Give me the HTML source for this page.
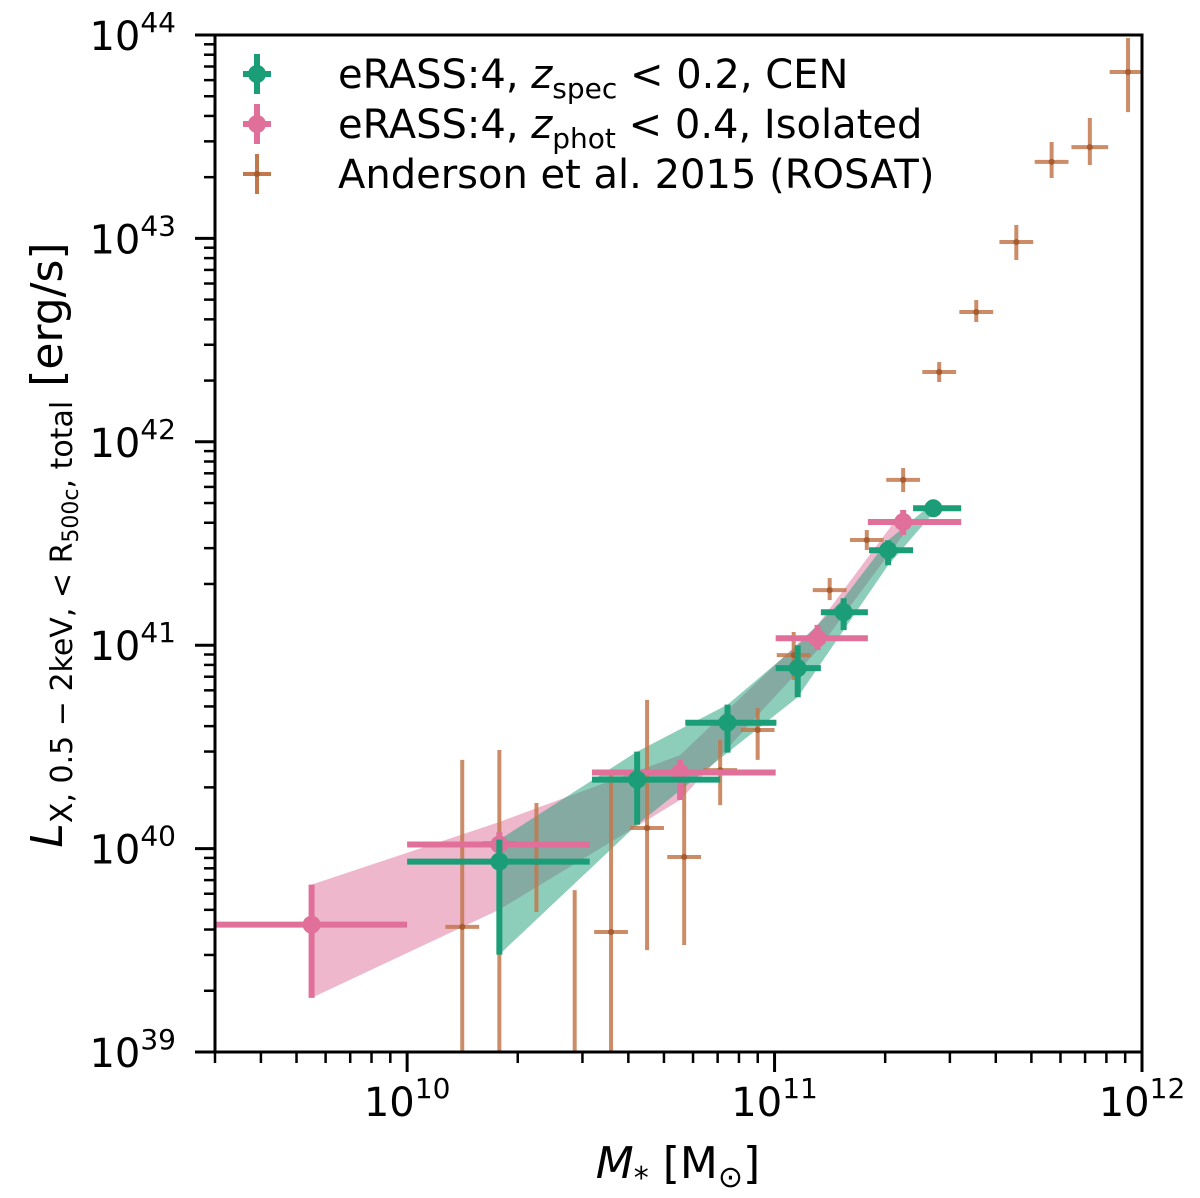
<!DOCTYPE html>
<html><head><meta charset="utf-8">
<style>
html,body{margin:0;padding:0;background:#fff;}
svg{display:block;font-family:"DejaVu Sans","Liberation Sans",sans-serif;}
</style></head>
<body>
<svg id="chart" width="1200" height="1198" viewBox="0 0 1200 1198" xmlns="http://www.w3.org/2000/svg">
<defs><clipPath id="clip"><rect x="215" y="35" width="927" height="1017"/></clipPath></defs>
<g id="plot" clip-path="url(#clip)"></g>
<g id="axes"></g>
</svg>
<script>
// ---- data (log10 values) ----
const cenX = [10.251, 10.626, 10.872, 11.063, 11.188, 11.309, 11.432];
const cenY = [39.936, 40.339, 40.619, 40.887, 41.162, 41.467, 41.673];
const cenXlo = [10.0, 10.503, 10.757, 11.003, 11.126, 11.257, 11.377];
const cenXhi = [10.497, 10.852, 11.005, 11.126, 11.254, 11.377, 11.508];
const cenYhi = [40.044, 40.477, 40.708, 41.0, 41.231, 41.516, 41.70];
const cenYlo = [39.479, 40.118, 40.472, 40.744, 41.074, 41.393, 41.65];

const isoX = [9.740, 10.251, 10.743, 11.117, 11.35];
const isoY = [39.626, 40.02, 40.374, 41.034, 41.606];
const isoXlo = [9.473, 10.0, 10.503, 11.003, 11.254];
const isoXhi = [10.0, 10.497, 11.003, 11.254, 11.508];
const isoYhi = [39.823, 40.08, 40.436, 41.10, 41.665];
const isoYlo = [39.266, 39.96, 40.239, 40.976, 41.542];
const isoBandHi = [39.823, 40.131, 40.46, 41.10, 41.665];
const isoBandLo = [39.266, 39.70, 40.239, 40.976, 41.542];

const andX = [10.150,10.251,10.352,10.456,10.555,10.653,10.754,10.852,10.954,11.052,11.150,11.251,11.350,11.448,11.549,11.658,11.754,11.858,11.962];
const andY = [39.615,40.027,39.934,38.96,39.590,40.101,39.959,40.386,40.583,40.951,41.271,41.517,41.813,42.343,42.638,42.982,43.376,43.449,43.818];
const andYhi = [40.436,40.485,40.224,39.796,40.386,40.731,40.347,40.534,40.691,41.065,41.330,41.566,41.871,42.392,42.697,43.066,43.474,43.592,43.985];
const andYlo = [38.9,38.9,39.688,38.9,38.9,39.501,39.526,40.214,40.436,40.829,41.222,41.468,41.753,42.294,42.589,42.894,43.297,43.361,43.621];
const andXerr = [0.046,0.046,0.046,0.046,0.046,0.046,0.046,0.046,0.046,0.046,0.046,0.046,0.046,0.046,0.046,0.046,0.046,0.05,0.05];

const xTicks = [10, 11, 12];
const yTicks = [39, 40, 41, 42, 43, 44];

// ---- axes ----
const X0=215, X1=1142, Y0=35, Y1=1052;
const xmin=Math.log10(3e9), xmax=12, ymin=39, ymax=44;
const sx = v => X0 + (v - xmin) / (xmax - xmin) * (X1 - X0);
const sy = v => Y1 - (v - ymin) / (ymax - ymin) * (Y1 - Y0);
const NS='http://www.w3.org/2000/svg';
function mk(tag, attrs, parent){const e=document.createElementNS(NS,tag);for(const k in attrs)e.setAttribute(k,attrs[k]);parent.appendChild(e);return e;}
const plot=document.getElementById('plot'), axes=document.getElementById('axes');

const GREEN='#1b9e77', PINK='#e0709a', ORANGE='#c2784c';

function band(xs, hi, lo, color, name){
  let pts=xs.map((x,i)=>sx(x)+','+sy(hi[i]));
  for(let i=xs.length-1;i>=0;i--) pts.push(sx(xs[i])+','+sy(lo[i]));
  const p=mk('polygon',{points:pts.join(' '),fill:color,'fill-opacity':0.5,stroke:'none'},plot);
  
  
}
band(isoX, isoBandHi, isoBandLo, PINK, 'isolated-band');
band(cenX, cenYhi, cenYlo, GREEN, 'cen-band');

andX.forEach((x,i)=>{
  const g=mk('g',{},plot);
  
  
  mk('line',{x1:sx(x-andXerr[i]),x2:sx(x+andXerr[i]),y1:sy(andY[i]),y2:sy(andY[i]),stroke:ORANGE,'stroke-width':4,'stroke-opacity':0.85},g);
  mk('line',{x1:sx(x),x2:sx(x),y1:sy(andYhi[i]),y2:sy(andYlo[i]),stroke:ORANGE,'stroke-width':4,'stroke-opacity':0.85},g);
  mk('circle',{cx:sx(x),cy:sy(andY[i]),r:3,fill:'#a85a30'},g);
});

function series(xs,ys,xl,xh,yl,yh,color,name){
  xs.forEach((x,i)=>{
    const g=mk('g',{},plot);
    
    
    mk('line',{x1:sx(xl[i]),x2:sx(xh[i]),y1:sy(ys[i]),y2:sy(ys[i]),stroke:color,'stroke-width':6},g);
    mk('line',{x1:sx(x),x2:sx(x),y1:sy(yh[i]),y2:sy(yl[i]),stroke:color,'stroke-width':6},g);
    mk('circle',{cx:sx(x),cy:sy(ys[i]),r:9,fill:color},g);
  });
}
series(isoX,isoY,isoXlo,isoXhi,isoYlo,isoYhi,PINK,'isolated-point');
series(cenX,cenY,cenXlo,cenXhi,cenYlo,cenYhi,GREEN,'cen-point');

const fr=mk('rect',{x:X0,y:Y0,width:X1-X0,height:Y1-Y0,fill:'none',stroke:'#000','stroke-width':3},axes);



for(let d=9; d<12; d++){
  for(let m=1;m<10;m++){
    const v=d+Math.log10(m);
    if(v<xmin-1e-9||v>xmax) continue;
    const major=(m===1);
    mk('line',{x1:sx(v),x2:sx(v),y1:Y1,y2:Y1+(major?20:11),stroke:'#000','stroke-width':major?3:2.5},axes);
  }
}
mk('line',{x1:sx(12),x2:sx(12),y1:Y1,y2:Y1+20,stroke:'#000','stroke-width':3},axes);
xTicks.forEach(t=>{
  const tx=mk('text',{x:sx(t),y:1116,'text-anchor':'middle','font-size':40},axes);
  
  
  tx.innerHTML='10<tspan dy="-18" font-size="28">'+t+'</tspan>';
});
for(let d=39; d<44; d++){
  for(let m=1;m<10;m++){
    const v=d+Math.log10(m);
    mk('line',{x1:X0,x2:X0-(m===1?20:11),y1:sy(v),y2:sy(v),stroke:'#000','stroke-width':m===1?3:2.5},axes);
  }
}
mk('line',{x1:X0,x2:X0-20,y1:sy(44),y2:sy(44),stroke:'#000','stroke-width':3},axes);
yTicks.forEach(t=>{
  const tx=mk('text',{x:176,y:sy(t)+15,'text-anchor':'end','font-size':40},axes);
  
  
  tx.innerHTML='10<tspan dy="-18" font-size="28">'+t+'</tspan>';
});

const xt=mk('text',{x:678,y:1178,'text-anchor':'middle','font-size':44},axes);


xt.innerHTML='<tspan font-style="italic">M</tspan><tspan dy="10" font-size="30">*</tspan><tspan dy="-10"> [M</tspan><tspan dy="9" font-size="30">⊙</tspan><tspan dy="-9">]</tspan>';
const yt=mk('text',{x:0,y:0,'text-anchor':'middle','font-size':44,transform:'translate(62,545) rotate(-90)'},axes);


yt.innerHTML='<tspan font-style="italic">L</tspan><tspan dy="10" font-size="30">X, 0.5 − 2keV, &lt; R</tspan><tspan dy="6" font-size="22">500c</tspan><tspan dy="-6" font-size="30">, total</tspan><tspan dy="-10"> [erg/s]</tspan>';

const leg=[{c:GREEN,lab:'eRASS:4, <tspan font-style="italic">z</tspan><tspan dy="10" font-size="28">spec</tspan><tspan dy="-10"> &lt; 0.2, CEN</tspan>',n:'legend-entry-cen',dot:true},
 {c:PINK,lab:'eRASS:4, <tspan font-style="italic">z</tspan><tspan dy="10" font-size="28">phot</tspan><tspan dy="-10"> &lt; 0.4, Isolated</tspan>',n:'legend-entry-isolated',dot:true},
 {c:ORANGE,lab:'Anderson et al. 2015 (ROSAT)',n:'legend-entry-anderson',dot:false}];
leg.forEach((l,i)=>{
  const cy=74+i*50;
  const g=mk('g',{},axes);
  
  
  mk('line',{x1:243,x2:271,y1:cy,y2:cy,stroke:l.c,'stroke-width':l.dot?6:4},g);
  mk('line',{x1:257,x2:257,y1:cy-20,y2:cy+20,stroke:l.c,'stroke-width':l.dot?6:4},g);
  mk('circle',{cx:257,cy:cy,r:l.dot?9:3,fill:l.dot?l.c:'#a85a30'},g);
  const t=mk('text',{x:338,y:cy+14,'font-size':40},g);
  t.innerHTML=l.lab;
});
</script>
</body></html>
